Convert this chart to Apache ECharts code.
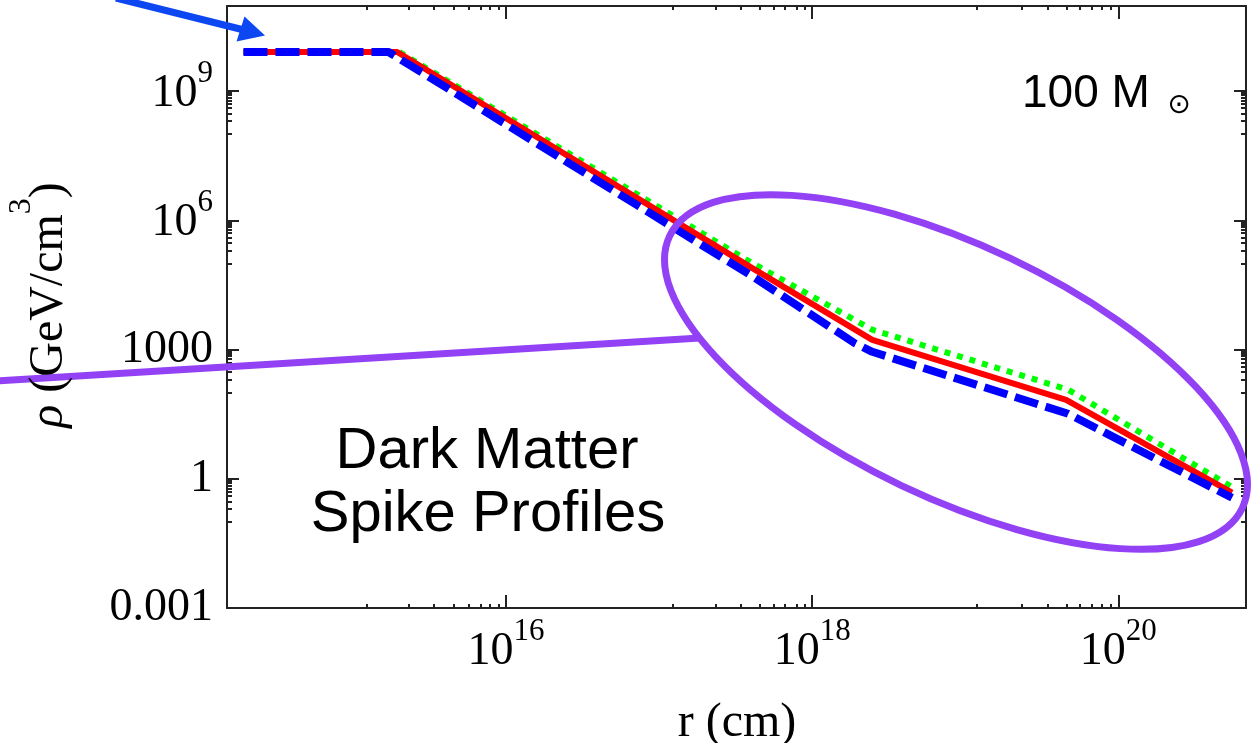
<!DOCTYPE html>
<html><head><meta charset="utf-8">
<script src="https://cdn.jsdelivr.net/npm/echarts@6/dist/echarts.min.js"></script>
<style>html,body{margin:0;padding:0;background:#fff}#c{width:1257px;height:743px}</style>
</head><body><div id="c"></div>
<script>
// ---- data (r in cm, rho in GeV/cm^3) ----
const rGreen   = [1.93e14, 2.01e15, 3.94e17, 2.47e18, 4.70e19, 5.62e20];
const rhoGreen = [8.07e9,  8.07e9,  1.08e5,  2.88e3,  117,     0.618];
const rRed     = [1.93e14, 1.95e15, 3.94e17, 2.47e18, 4.56e19, 5.53e20];
const rhoRed   = [8.07e9,  8.07e9,  8.3e4,   1.68e3,  68.2,    0.474];
const rBlue    = [1.93e14, 1.71e15, 3.94e17, 1.9e18, 2.47e18, 3.3e18, 4.70e19, 5.53e20];
const rhoBlue  = [8.07e9,  8.07e9,  5.41e4,  1.4e3,  885,     640,    32.2,    0.362];

// ---- axes (exponents of 10) ----
const xRangeExp = [14.178, 20.834];
const yRangeExp = [-3, 10.974];
const xTickExp = [16, 18, 20];
const xTickLabels = ['10^16', '10^18', '10^20'];
const xMinorExp = [15.092, 15.368, 15.531, 15.656, 15.760, 15.835, 15.897, 15.950,
                   17.089, 17.370, 17.533, 17.658, 17.749, 17.824, 17.897, 17.952,
                   19.078, 19.370, 19.536, 19.662, 19.749, 19.827, 19.890, 19.950];
const yTickExp = [9, 6, 3, 0, -3];
const yTickLabels = ['10^9', '10^6', '1000', '1', '0.001'];
const yMinorMantissa = [1, 2, 3, 4, 5, 6, 7, 8, 9];

const yMinorExp = [];
yTickExp.forEach(e => { if (e > yRangeExp[0]) yMinorMantissa.forEach(m => yMinorExp.push(e - 1 + Math.log10(m))); });

const pairs = (a, b) => a.map((v, i) => [v, b[i]]);
const SERIF = 'Liberation Serif';
const rich = {
  b: {fontFamily: SERIF, fontSize: 46, color: '#000', padding: [6, 0, 0, 0]},
  p: {fontFamily: SERIF, fontSize: 46, color: '#000'},
  s: {fontFamily: SERIF, fontSize: 31, color: '#000', padding: [0, 0, 34, 0]}
};
function fmt(s) { const m = s.split('^'); return m.length === 2 ? '{b|' + m[0] + '}{s|' + m[1] + '}' : '{p|' + s + '}'; }
const frame = {show: true, onZero: false, lineStyle: {color: '#222', width: 2}};

function tickAxis(pos, range, values, len, withLine, labels) {
  return {
    type: 'value', position: pos, min: range[0], max: range[1],
    axisLine: withLine ? frame : {show: false, onZero: false},
    splitLine: {show: false},
    axisTick: {show: true, inside: true, length: len, customValues: values, lineStyle: {color: '#222', width: 2}},
    axisLabel: labels ? {show: true, customValues: labels.vals, margin: labels.margin,
      formatter: v => fmt(labels.text[labels.vals.indexOf(v)]), rich: rich} : {show: false}
  };
}

const chart = echarts.init(document.getElementById('c'), null, {renderer: 'canvas'});
chart.setOption({
  animation: false,
  backgroundColor: '#fff',
  grid: {left: 227, top: 6, right: 11, bottom: 135, containLabel: false, outerBoundsMode: 'none'},
  xAxis: [
    {type: 'log', logBase: 10, min: Math.pow(10, xRangeExp[0]), max: Math.pow(10, xRangeExp[1]), show: false},
    tickAxis('bottom', xRangeExp, xTickExp, 13, true, {vals: xTickExp, text: xTickLabels, margin: 8}),
    tickAxis('bottom', xRangeExp, xMinorExp, 4, false),
    tickAxis('top', xRangeExp, xTickExp, 13, true),
    tickAxis('top', xRangeExp, xMinorExp, 4, false)
  ],
  yAxis: [
    {type: 'log', logBase: 10, min: Math.pow(10, yRangeExp[0]), max: Math.pow(10, yRangeExp[1]), show: false},
    tickAxis('left', yRangeExp, yTickExp, 12, true, {vals: yTickExp, text: yTickLabels, margin: 14}),
    tickAxis('left', yRangeExp, yMinorExp, 5, false),
    tickAxis('right', yRangeExp, yTickExp, 12, true),
    tickAxis('right', yRangeExp, yMinorExp, 5, false)
  ],
  series: [
    {type: 'line', name: 'green', data: pairs(rGreen, rhoGreen), symbol: 'none', z: 2,
     lineStyle: {color: '#00ff00', width: 6, type: [6, 7], cap: 'butt'}},
    {type: 'line', name: 'red', data: pairs(rRed, rhoRed), symbol: 'none', z: 3,
     lineStyle: {color: '#ff0000', width: 6}},
    {type: 'line', name: 'blue', data: pairs(rBlue, rhoBlue), symbol: 'none', z: 4,
     lineStyle: {color: '#0000ff', width: 8, type: [24, 8], cap: 'butt'}}
  ],
  graphic: [
    {type: 'ellipse', x: 956, y: 372, rotation: -25.4 * Math.PI / 180, z: 100,
     shape: {cx: 0, cy: 0, rx: 317, ry: 126}, style: {fill: 'none', stroke: '#9341f4', lineWidth: 7}},
    {type: 'line', z: 100, shape: {x1: -5, y1: 381, x2: 700, y2: 338}, style: {stroke: '#9341f4', lineWidth: 7}},
    {type: 'line', z: 100, shape: {x1: 116, y1: -2, x2: 242, y2: 29.5}, style: {stroke: '#0c47f2', lineWidth: 7}},
    {type: 'polygon', z: 100, shape: {points: [[265, 35.5], [244.5, 16.5], [236.5, 41.5]]}, style: {fill: '#0c47f2'}},
    {type: 'text', z: 100, x: 487, y: 452, style: {text: 'Dark Matter', font: '58px "Liberation Sans"', fill: '#000', align: 'center', verticalAlign: 'middle'}},
    {type: 'text', z: 100, x: 488, y: 515, style: {text: 'Spike Profiles', font: '58px "Liberation Sans"', fill: '#000', align: 'center', verticalAlign: 'middle'}},
    {type: 'text', z: 100, x: 1022, y: 94, style: {text: '100 M', font: '46px "Liberation Sans"', fill: '#000', align: 'left', verticalAlign: 'middle'}},
    {type: 'text', z: 100, x: 1179, y: 106, style: {text: '\u2299', font: '28px "DejaVu Sans"', fill: '#000', align: 'center', verticalAlign: 'middle'}},
    {type: 'text', z: 100, x: 737, y: 723, style: {text: 'r (cm)', font: '48px "Liberation Serif"', fill: '#000', align: 'center', verticalAlign: 'middle'}},
    {type: 'text', z: 100, x: 49, y: 305, rotation: Math.PI / 2, style: {
      text: '{i|\u03c1}{b| (GeV/cm}{s|3}{b|)}', align: 'center', verticalAlign: 'middle',
      rich: {
        i: {fontFamily: SERIF, fontStyle: 'italic', fontSize: 48, fill: '#000'},
        b: {fontFamily: SERIF, fontSize: 48, fill: '#000'},
        s: {fontFamily: SERIF, fontSize: 32, fill: '#000', padding: [0, 0, 54, 0]}
      }}}
  ]
});
</script></body></html>
